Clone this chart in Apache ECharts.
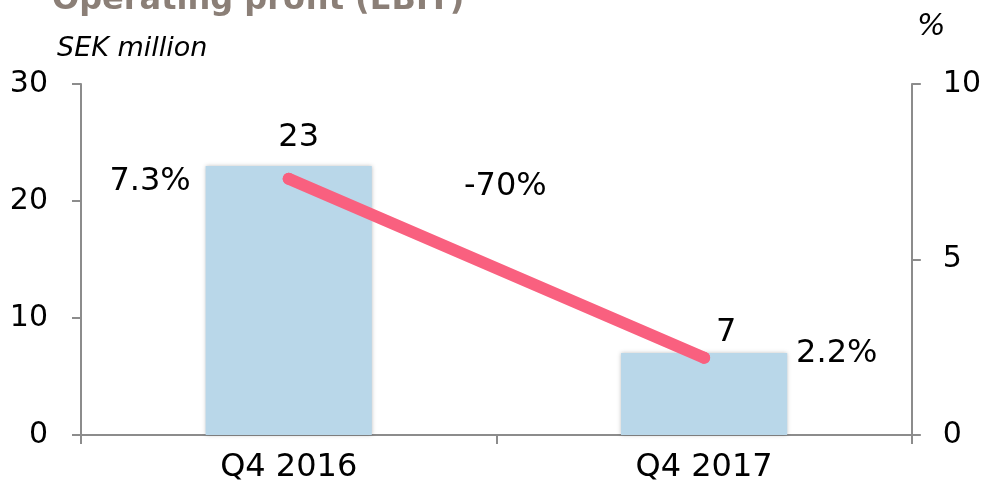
<!DOCTYPE html>
<html><head><meta charset="utf-8">
<script src="https://cdn.jsdelivr.net/npm/echarts@6/dist/echarts.min.js"></script>
<style>html,body{margin:0;padding:0;background:#fff}#c{width:984px;height:491px}</style>
</head><body><div id="c"></div>
<script>
const categories = ['Q4 2016', 'Q4 2017'];
const ebit = [23, 7];
const margin = [7.3, 2.2];
const leftTicks = [0, 10, 20, 30];
const rightTicks = [0, 5, 10];
const changeLabel = '-70%';

const FONT = '"DejaVu Sans", Verdana, sans-serif';
const chart = echarts.init(document.getElementById('c'), null, {renderer: 'canvas'});

const barLabelOffsets = [[10, -2], [22, 6]];
const lineLabelCfg = [
  {position: 'left', distance: 92, offset: [0, 3]},
  {position: 'right', distance: 86, offset: [0, -4]}
];

chart.setOption({
  animation: false,
  grid: {left: 81, right: 70, top: 84, bottom: 56, containLabel: false},
  xAxis: {
    type: 'category', data: categories,
    axisLine: {lineStyle: {color: '#8c8c8c', width: 2}},
    axisTick: {show: true, length: 9, lineStyle: {color: '#8c8c8c', width: 2}},
    axisLabel: {color: '#000', fontFamily: FONT, fontSize: 32, margin: 17}
  },
  yAxis: [
    {
      type: 'value', min: leftTicks[0], max: leftTicks[leftTicks.length - 1], interval: leftTicks[1] - leftTicks[0],
      splitLine: {show: false},
      axisLine: {show: true, lineStyle: {color: '#8c8c8c', width: 2}},
      axisTick: {show: true, length: 9, lineStyle: {color: '#8c8c8c', width: 2}},
      axisLabel: {color: '#000', fontFamily: FONT, fontSize: 30, margin: 33}
    },
    {
      type: 'value', min: rightTicks[0], max: rightTicks[rightTicks.length - 1], interval: rightTicks[1] - rightTicks[0],
      position: 'right',
      splitLine: {show: false},
      axisLine: {show: true, lineStyle: {color: '#8c8c8c', width: 2}},
      axisTick: {show: true, length: 9, lineStyle: {color: '#8c8c8c', width: 2}},
      axisLabel: {color: '#000', fontFamily: FONT, fontSize: 30, margin: 31}
    }
  ],
  series: [
    {
      type: 'bar', yAxisIndex: 0, barWidth: '40%',
      itemStyle: {color: '#b9d7e9', shadowBlur: 4, shadowColor: 'rgba(0,0,0,0.25)'},
      data: ebit.map((v, i) => ({
        value: v,
        label: {show: true, position: 'top', distance: 10, offset: barLabelOffsets[i],
          color: '#000', fontFamily: FONT, fontSize: 32}
      }))
    },
    {
      type: 'line', yAxisIndex: 1, z: 5,
      symbol: 'circle', symbolSize: 12,
      itemStyle: {color: '#f9607f'},
      lineStyle: {color: '#f9607f', width: 12, cap: 'round'},
      data: margin.map((v, i) => ({
        value: v,
        label: {show: true, position: lineLabelCfg[i].position, distance: lineLabelCfg[i].distance,
          offset: lineLabelCfg[i].offset,
          formatter: p => p.value.toFixed(1) + '%', color: '#000', fontFamily: FONT, fontSize: 32}
      }))
    }
  ],
  graphic: [
    {type: 'text', left: 52, top: -15, style: {text: 'Operating profit (EBIT)', fill: '#8b7f77',
      font: 'bold 32px ' + FONT}},
    {type: 'text', left: 57, top: 35, style: {text: 'SEK million', fill: '#000',
      font: 'italic 27px ' + FONT}},
    {type: 'text', left: 917, top: 12, style: {text: '%', fill: '#000',
      font: 'italic 30px ' + FONT}},
    {type: 'text', left: 464, top: 171, style: {text: changeLabel, fill: '#000',
      font: '32px ' + FONT}}
  ]
});
</script></body></html>
